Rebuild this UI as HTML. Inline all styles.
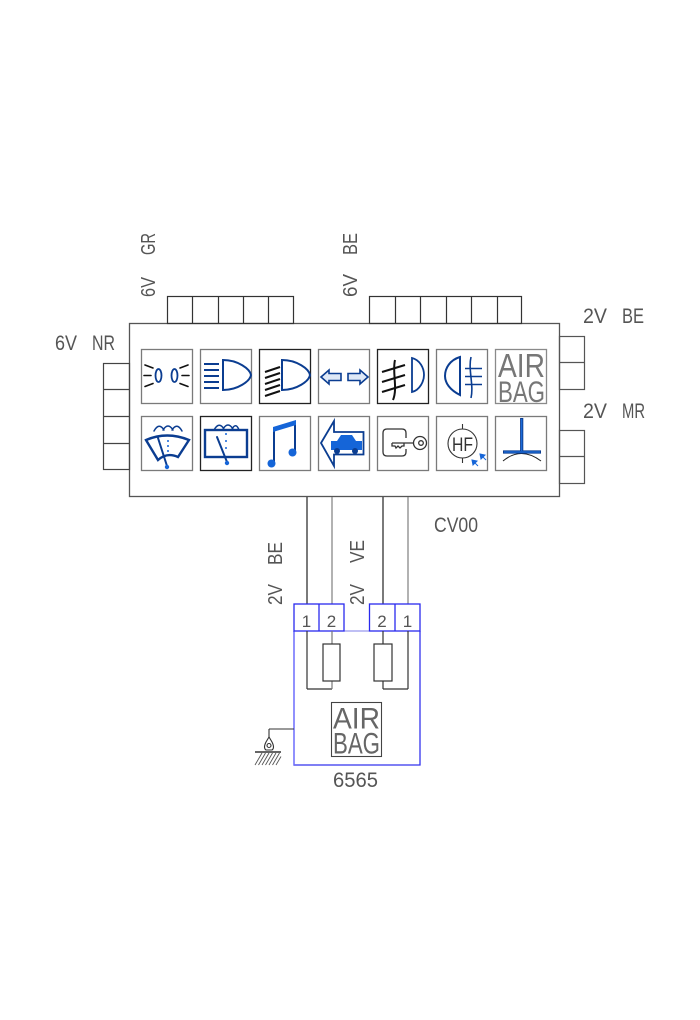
<!DOCTYPE html>
<html><head><meta charset="utf-8"><style>
html,body{margin:0;padding:0;background:#fff;}
svg{display:block;}
text{font-family:"Liberation Sans",sans-serif;}
</style></head><body>
<svg width="700" height="1020" viewBox="0 0 700 1020" xmlns="http://www.w3.org/2000/svg">
<rect width="700" height="1020" fill="#fff"/>

<!-- Labels -->
<g fill="#555" font-size="21">
  <text x="55" y="350" textLength="22" lengthAdjust="spacingAndGlyphs">6V</text>
  <text x="92" y="350" textLength="23" lengthAdjust="spacingAndGlyphs">NR</text>
  <text x="583" y="323" textLength="24" lengthAdjust="spacingAndGlyphs">2V</text>
  <text x="622" y="323" textLength="22" lengthAdjust="spacingAndGlyphs">BE</text>
  <text x="583" y="418" textLength="24" lengthAdjust="spacingAndGlyphs">2V</text>
  <text x="622" y="418" textLength="23" lengthAdjust="spacingAndGlyphs">MR</text>
  <text x="434" y="532" textLength="44" lengthAdjust="spacingAndGlyphs">CV00</text>
  <text x="333" y="787" textLength="45" lengthAdjust="spacingAndGlyphs">6565</text>
</g>
<g fill="#555" font-size="20">
  <g transform="translate(155,297) rotate(-90)">
    <text x="0" y="0" textLength="20" lengthAdjust="spacingAndGlyphs">6V</text>
    <text x="42" y="0" textLength="22" lengthAdjust="spacingAndGlyphs">GR</text>
  </g>
  <g transform="translate(357,297) rotate(-90)">
    <text x="0" y="0" textLength="23" lengthAdjust="spacingAndGlyphs">6V</text>
    <text x="42" y="0" textLength="22" lengthAdjust="spacingAndGlyphs">BE</text>
  </g>
  <g transform="translate(282,605) rotate(-90)">
    <text x="0" y="0" textLength="21" lengthAdjust="spacingAndGlyphs">2V</text>
    <text x="40" y="0" textLength="23" lengthAdjust="spacingAndGlyphs">BE</text>
  </g>
  <g transform="translate(364,605) rotate(-90)">
    <text x="0" y="0" textLength="21" lengthAdjust="spacingAndGlyphs">2V</text>
    <text x="42" y="0" textLength="23" lengthAdjust="spacingAndGlyphs">VE</text>
  </g>
</g>

<!-- Main box -->
<rect x="129.5" y="323.5" width="430" height="173" fill="none" stroke="#555" stroke-width="1.3"/>

<!-- Top connector 6V GR -->
<g fill="none" stroke="#333" stroke-width="1.2">
  <rect x="167.5" y="296.5" width="126" height="27"/>
  <line x1="192.5" y1="296" x2="192.5" y2="323"/>
  <line x1="218.5" y1="296" x2="218.5" y2="323"/>
  <line x1="243.5" y1="296" x2="243.5" y2="323"/>
  <line x1="268.5" y1="296" x2="268.5" y2="323"/>
</g>
<!-- Top connector 6V BE -->
<g fill="none" stroke="#333" stroke-width="1.2">
  <rect x="369.5" y="296.5" width="152" height="27"/>
  <line x1="395.5" y1="296" x2="395.5" y2="323"/>
  <line x1="420.5" y1="296" x2="420.5" y2="323"/>
  <line x1="446.5" y1="296" x2="446.5" y2="323"/>
  <line x1="471.5" y1="296" x2="471.5" y2="323"/>
  <line x1="497.5" y1="296" x2="497.5" y2="323"/>
</g>
<!-- Left connector 6V NR -->
<g fill="none" stroke="#444" stroke-width="1.2">
  <rect x="103.5" y="363.5" width="26" height="106"/>
  <line x1="103" y1="389.5" x2="129" y2="389.5"/>
  <line x1="103" y1="416.5" x2="129" y2="416.5"/>
  <line x1="103" y1="443.5" x2="129" y2="443.5"/>
</g>
<!-- Right connectors -->
<g fill="none" stroke="#555" stroke-width="1.2">
  <rect x="559.5" y="336.5" width="25" height="53"/>
  <line x1="559" y1="362.5" x2="585" y2="362.5"/>
  <rect x="559.5" y="430.5" width="25" height="53"/>
  <line x1="559" y1="456.5" x2="585" y2="456.5"/>
</g>

<!-- Icon boxes row 1 -->
<g fill="none" stroke-width="1.3">
  <rect x="141.5" y="349.5" width="51" height="54" stroke="#7a7a7a"/>
  <rect x="200.5" y="349.5" width="51" height="54" stroke="#7a7a7a"/>
  <rect x="259.5" y="349.5" width="51" height="54" stroke="#222"/>
  <rect x="318.5" y="349.5" width="51" height="54" stroke="#7a7a7a"/>
  <rect x="377.5" y="349.5" width="51" height="54" stroke="#222"/>
  <rect x="436.5" y="349.5" width="51" height="54" stroke="#7a7a7a"/>
  <rect x="495.5" y="349.5" width="51" height="54" stroke="#8a8a8a"/>
</g>
<!-- Icon boxes row 2 -->
<g fill="none" stroke-width="1.3">
  <rect x="141.5" y="416.5" width="51" height="54" stroke="#7a7a7a"/>
  <rect x="200.5" y="416.5" width="51" height="54" stroke="#222"/>
  <rect x="259.5" y="416.5" width="51" height="54" stroke="#7a7a7a"/>
  <rect x="318.5" y="416.5" width="51" height="54" stroke="#7a7a7a"/>
  <rect x="377.5" y="416.5" width="51" height="54" stroke="#7a7a7a"/>
  <rect x="436.5" y="416.5" width="51" height="54" stroke="#7a7a7a"/>
  <rect x="495.5" y="416.5" width="51" height="54" stroke="#7a7a7a"/>
</g>

<!-- Icon 1: side lights -->
<g fill="none" stroke-linecap="round">
  <ellipse cx="158.5" cy="375.5" rx="3" ry="6.5" stroke="#0b3d91" stroke-width="1.8"/>
  <ellipse cx="174.5" cy="375.5" rx="3" ry="6.5" stroke="#0b3d91" stroke-width="1.8"/>
  <g stroke="#111" stroke-width="1.6">
    <line x1="145" y1="365" x2="153" y2="368"/>
    <line x1="144" y1="375.5" x2="151" y2="375.5"/>
    <line x1="145" y1="386.5" x2="153" y2="383.5"/>
    <line x1="180" y1="368" x2="188" y2="365"/>
    <line x1="182" y1="375.5" x2="189" y2="375.5"/>
    <line x1="180" y1="383.5" x2="188" y2="386.5"/>
  </g>
</g>

<!-- Icon 2: main beam -->
<g fill="none" stroke="#0b3d91" stroke-width="2">
  <line x1="204" y1="364" x2="219" y2="364"/>
  <line x1="204" y1="370" x2="219" y2="370"/>
  <line x1="204" y1="376" x2="219" y2="376"/>
  <line x1="204" y1="382" x2="219" y2="382"/>
  <line x1="204" y1="388" x2="219" y2="388"/>
  <path d="M223,360 L223,390 C238,390 250,381 251,375 C250,369 238,360 223,360 Z"/>
</g>

<!-- Icon 3: dipped beam -->
<g fill="none">
  <g stroke="#111" stroke-width="2">
    <line x1="265" y1="372" x2="280" y2="367"/>
    <line x1="265" y1="378" x2="280" y2="373"/>
    <line x1="265" y1="384" x2="280" y2="379"/>
    <line x1="265" y1="390" x2="280" y2="385"/>
    <line x1="265" y1="396" x2="280" y2="391"/>
  </g>
  <path d="M282,360 L282,390 C297,390 309,381 310,375 C309,369 297,360 282,360 Z" stroke="#0b3d91" stroke-width="2"/>
</g>

<!-- Icon 4: turn signals -->
<g fill="#dfe9f7" stroke="#0b3d91" stroke-width="1.6" stroke-linejoin="miter">
  <polygon points="321,377 329,370 329,373.5 341,373.5 341,380.5 329,380.5 329,384"/>
  <polygon points="368,377 360,370 360,373.5 348,373.5 348,380.5 360,380.5 360,384"/>
</g>

<!-- Icon 5: front fog -->
<g fill="none">
  <path d="M395,360 C392,372 398,388 393,400" stroke="#111" stroke-width="2"/>
  <g stroke="#111" stroke-width="2">
    <line x1="382" y1="372" x2="405" y2="365"/>
    <line x1="382" y1="382" x2="405" y2="375"/>
    <line x1="382" y1="392" x2="405" y2="385"/>
  </g>
  <path d="M412,358 L412,392 C420,390 424,381 424,375 C424,368 420,360 412,358 Z" stroke="#0b3d91" stroke-width="1.8"/>
</g>

<!-- Icon 6: rear fog -->
<g fill="none" stroke="#0b3d91">
  <path d="M460,357 L460,395 C450,390 445,383 445,376 C445,368 450,360 460,357 Z" stroke-width="2"/>
  <path d="M471,357 C468,370 474,385 471,398" stroke-width="1.6"/>
  <line x1="465" y1="368.5" x2="482" y2="368.5" stroke-width="1.6"/>
  <line x1="465" y1="376.5" x2="482" y2="376.5" stroke-width="1.6"/>
  <line x1="465" y1="384.5" x2="482" y2="384.5" stroke-width="1.6"/>
</g>

<!-- Icon 7: AIR BAG -->
<g fill="#777">
  <text x="498" y="377" font-size="33" textLength="47" lengthAdjust="spacingAndGlyphs">AIR</text>
  <text x="498" y="402" font-size="30" textLength="47" lengthAdjust="spacingAndGlyphs">BAG</text>
</g>

<!-- Icon 8: windscreen washer -->
<g fill="none" stroke="#0b3d91" stroke-linecap="round">
  <path d="M154,431 Q159,422 164,430 M163,430 Q168,422 173,430 M172,430 Q177,422 182,431" stroke-width="1.5"/>
  <path d="M146,440 Q167,431 189,440 L178,457 Q167,452 158,460 Z" stroke-width="2.4"/>
  <line x1="158" y1="438" x2="167" y2="466" stroke-width="2"/>
</g>
<g fill="#1565d8">
  <circle cx="167" cy="467" r="2.2"/>
  <circle cx="168" cy="441" r="1"/>
  <circle cx="168" cy="446" r="1"/>
  <circle cx="168" cy="451" r="1"/>
</g>

<!-- Icon 9: rear wiper -->
<g fill="none" stroke="#0b3d91" stroke-linecap="round">
  <path d="M214,430 Q219,421 224,429 M223,429 Q228,421 233,429 M232,429 Q236,422 239,430" stroke-width="1.5"/>
  <rect x="205" y="430" width="42" height="27" stroke-width="2.4"/>
  <line x1="217" y1="437" x2="227" y2="462" stroke-width="2"/>
</g>
<g fill="#1565d8">
  <circle cx="227" cy="463" r="2.2"/>
  <circle cx="226" cy="434" r="1"/>
  <circle cx="226" cy="441" r="1"/>
  <circle cx="226" cy="448" r="1"/>
</g>

<!-- Icon 10: horn -->
<g>
  <line x1="274" y1="428" x2="274" y2="462" stroke="#0b3d91" stroke-width="2"/>
  <line x1="295" y1="422" x2="295" y2="452" stroke="#0b3d91" stroke-width="2"/>
  <polygon points="273,427 296,420 296,425 273,432" fill="#1565d8"/>
  <circle cx="271.5" cy="463.5" r="4" fill="#1565d8"/>
  <circle cx="292.5" cy="452.5" r="4" fill="#1565d8"/>
</g>

<!-- Icon 11: car with arrow -->
<g>
  <polygon points="321,443 334,421 334,432 363.5,432 363.5,454.5 334,454.5 334,466" fill="none" stroke="#0b3d91" stroke-width="1.8"/>
  <rect x="331" y="441" width="31" height="9" fill="#1565d8"/>
  <polygon points="337,441 341,435 352,435 356,441" fill="#1565d8"/>
  <circle cx="337" cy="451" r="3" fill="#0b3d91"/>
  <circle cx="355" cy="451" r="3" fill="#0b3d91"/>
</g>

<!-- Icon 12: key -->
<g fill="none" stroke="#333" stroke-width="1.3">
  <path d="M406,438 L406,433 Q406,429 402,429 L387,429 Q383,429 383,433 L383,452 Q383,456 387,456 L402,456 Q406,456 406,452 L406,449"/>
  <path d="M392,443 L413.5,443 M392,443 L392,446 L395,446 L396,448 L398,446 L400,448 L402,446 L404,446 L404,443"/>
  <circle cx="420" cy="443" r="6.5"/>
  <circle cx="421" cy="443" r="2.3"/>
</g>

<!-- Icon 13: HF -->
<g fill="none" stroke="#333" stroke-width="1.1">
  <circle cx="462.5" cy="443.5" r="14.5"/>
  <line x1="462.5" y1="424" x2="462.5" y2="429"/>
  <line x1="462.5" y1="458" x2="462.5" y2="463"/>
</g>
<text x="452" y="451" font-size="19" fill="#333" textLength="21" lengthAdjust="spacingAndGlyphs">HF</text>
<g fill="#1565d8" stroke="#1565d8" stroke-width="1">
  <line x1="478" y1="466" x2="474" y2="462"/>
  <polygon points="472,460 477,461 473,465"/>
  <line x1="486" y1="460" x2="482" y2="456"/>
  <polygon points="480,454 485,455 481,459"/>
</g>

<!-- Icon 14: ground T -->
<g>
  <path d="M503,461 Q521,446 541,461" fill="none" stroke="#222" stroke-width="1"/>
  <line x1="521.7" y1="418" x2="521.7" y2="452" stroke="#0b3d91" stroke-width="3.2"/>
  <line x1="503" y1="452" x2="541" y2="452" stroke="#0b3d91" stroke-width="3.2"/>
  <line x1="521.7" y1="419" x2="521.7" y2="451" stroke="#1e6fe0" stroke-width="1.2"/>
  <line x1="504" y1="452" x2="540" y2="452" stroke="#1e6fe0" stroke-width="1.2"/>
</g>

<!-- Wires from main box -->
<g stroke-width="1.3">
  <line x1="307" y1="497" x2="307" y2="604" stroke="#333"/>
  <line x1="332" y1="497" x2="332" y2="604" stroke="#888"/>
  <line x1="383" y1="497" x2="383" y2="604" stroke="#333"/>
  <line x1="408" y1="497" x2="408" y2="604" stroke="#888"/>
</g>

<!-- Module 6565 -->
<g fill="none" stroke-width="1.3">
  <line x1="344" y1="631" x2="369" y2="631" stroke="#9999ee"/>
  <path d="M294,631 L294,765 L420,765 L420,631" stroke="#3333ee"/>
  <line x1="294" y1="631" x2="294" y2="765" stroke="#7777ff"/>
  <rect x="294" y="604" width="50" height="27" stroke="#2a2aee"/>
  <line x1="319" y1="604" x2="319" y2="631" stroke="#2a2aee"/>
  <rect x="369.5" y="604" width="50.5" height="27" stroke="#2a2aee"/>
  <line x1="395" y1="604" x2="395" y2="631" stroke="#2a2aee"/>
</g>
<g fill="#555" font-size="17">
  <text x="306.5" y="627" text-anchor="middle">1</text>
  <text x="331.5" y="627" text-anchor="middle">2</text>
  <text x="382" y="627" text-anchor="middle">2</text>
  <text x="407.5" y="627" text-anchor="middle">1</text>
</g>

<!-- Internal wiring & resistors -->
<g fill="none" stroke-width="1.2">
  <line x1="307" y1="631" x2="307" y2="689" stroke="#333"/>
  <line x1="307" y1="689" x2="332" y2="689" stroke="#333"/>
  <line x1="332" y1="631" x2="332" y2="644" stroke="#777"/>
  <line x1="332" y1="681" x2="332" y2="689" stroke="#777"/>
  <rect x="323" y="644" width="17" height="37" stroke="#333"/>
  <line x1="408" y1="631" x2="408" y2="689" stroke="#333"/>
  <line x1="383" y1="689" x2="408" y2="689" stroke="#333"/>
  <line x1="383" y1="631" x2="383" y2="644" stroke="#333"/>
  <line x1="383" y1="681" x2="383" y2="689" stroke="#333"/>
  <rect x="374" y="644" width="18" height="37" stroke="#333"/>
</g>

<!-- Module AIR BAG -->
<rect x="331.5" y="702.5" width="50" height="54" fill="none" stroke="#444" stroke-width="1.1"/>
<g fill="#666">
  <text x="333" y="728.5" font-size="30" textLength="47" lengthAdjust="spacingAndGlyphs">AIR</text>
  <text x="333" y="753.5" font-size="30" textLength="47" lengthAdjust="spacingAndGlyphs">BAG</text>
</g>

<!-- Ground -->
<g fill="none" stroke="#333" stroke-width="1.1">
  <line x1="294" y1="729" x2="269" y2="729"/>
  <line x1="269" y1="729" x2="269" y2="737"/>
  <path d="M269,737 L266,742 Q263,748 266,750 L272,750 Q275,748 272,742 Z"/>
  <circle cx="269" cy="745.5" r="2"/>
</g>
<line x1="255" y1="752" x2="281" y2="752" stroke="#666" stroke-width="2"/>
<g stroke="#555" stroke-width="0.9">
  <line x1="255" y1="765" x2="262" y2="753"/>
  <line x1="258.5" y1="765" x2="265.5" y2="753"/>
  <line x1="262" y1="765" x2="269" y2="753"/>
  <line x1="265.5" y1="765" x2="272.5" y2="753"/>
  <line x1="269" y1="765" x2="276" y2="753"/>
  <line x1="272.5" y1="765" x2="279.5" y2="753"/>
  <line x1="276" y1="765" x2="281" y2="756.5"/>
</g>
</svg>
</body></html>
